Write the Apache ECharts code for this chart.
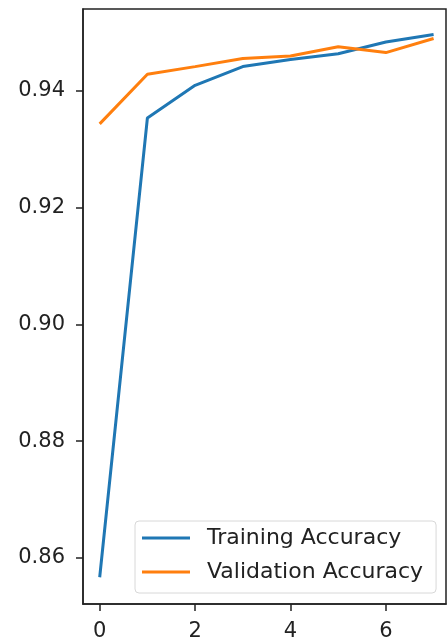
<!DOCTYPE html>
<html><head><meta charset="utf-8">
<script src="https://cdn.jsdelivr.net/npm/echarts@6/dist/echarts.min.js"></script>
<style>html,body{margin:0;padding:0;background:#fff}#c{width:447px;height:643px}</style>
</head><body><div id="c"></div>
<script>
const epochs = [0, 1, 2, 3, 4, 5, 6, 7];
const trainingAccuracy = [0.8567, 0.9353, 0.9409, 0.9441, 0.9453, 0.9463, 0.9483, 0.9496];
const validationAccuracy = [0.9343, 0.9428, 0.9441, 0.9455, 0.9459, 0.9475, 0.9465, 0.9489];
const xTicks = [0, 2, 4, 6];
const yTicks = [0.86, 0.88, 0.90, 0.92, 0.94];

const font = 'DejaVu Sans';
const chart = echarts.init(document.getElementById('c'), null, {renderer: 'canvas'});
chart.setOption({
  animation: false,
  backgroundColor: '#fff',
  grid: {left: 83, top: 9, right: 1, bottom: 39, show: true, borderColor: '#222', borderWidth: 1.5, backgroundColor: 'transparent'},
  xAxis: {
    type: 'value', min: -0.35, max: 7.26,
    axisLine: {show: true, onZero: false, lineStyle: {color: '#222', width: 1.5}},
    axisTick: {show: true, length: 7, customValues: xTicks, lineStyle: {color: '#222', width: 1.5}},
    axisLabel: {customValues: xTicks, margin: 17, color: '#222', fontFamily: font, fontSize: 21},
    splitLine: {show: false}
  },
  yAxis: {
    type: 'value', min: 0.85212, max: 0.95396,
    axisLine: {show: true, onZero: false, lineStyle: {color: '#222', width: 1.5}},
    axisTick: {show: true, length: 7, customValues: yTicks, lineStyle: {color: '#222', width: 1.5}},
    axisLabel: {customValues: yTicks, margin: 18, color: '#222', fontFamily: font, fontSize: 21, formatter: v => v.toFixed(2)},
    splitLine: {show: false}
  },
  legend: {
    orient: 'vertical', left: 135, top: 521,
    padding: [5, 13, 9, 7],
    itemGap: 10, itemWidth: 48, itemHeight: 3, icon: 'rect',
    borderColor: '#d8d8d8', borderWidth: 1, borderRadius: 4, backgroundColor: 'rgba(255,255,255,0.8)',
    textStyle: {fontFamily: font, fontSize: 22, color: '#222', lineHeight: 24, padding: [0, 0, 0, 12]},
    data: ['Training Accuracy', 'Validation Accuracy']
  },
  series: [
    {name: 'Training Accuracy', type: 'line', data: epochs.map((e, i) => [e, trainingAccuracy[i]]), showSymbol: false, symbol: 'none', lineStyle: {color: '#1f77b4', width: 3}, itemStyle: {color: '#1f77b4'}},
    {name: 'Validation Accuracy', type: 'line', data: epochs.map((e, i) => [e, validationAccuracy[i]]), showSymbol: false, symbol: 'none', lineStyle: {color: '#ff7f0e', width: 3}, itemStyle: {color: '#ff7f0e'}}
  ]
});
</script></body></html>
